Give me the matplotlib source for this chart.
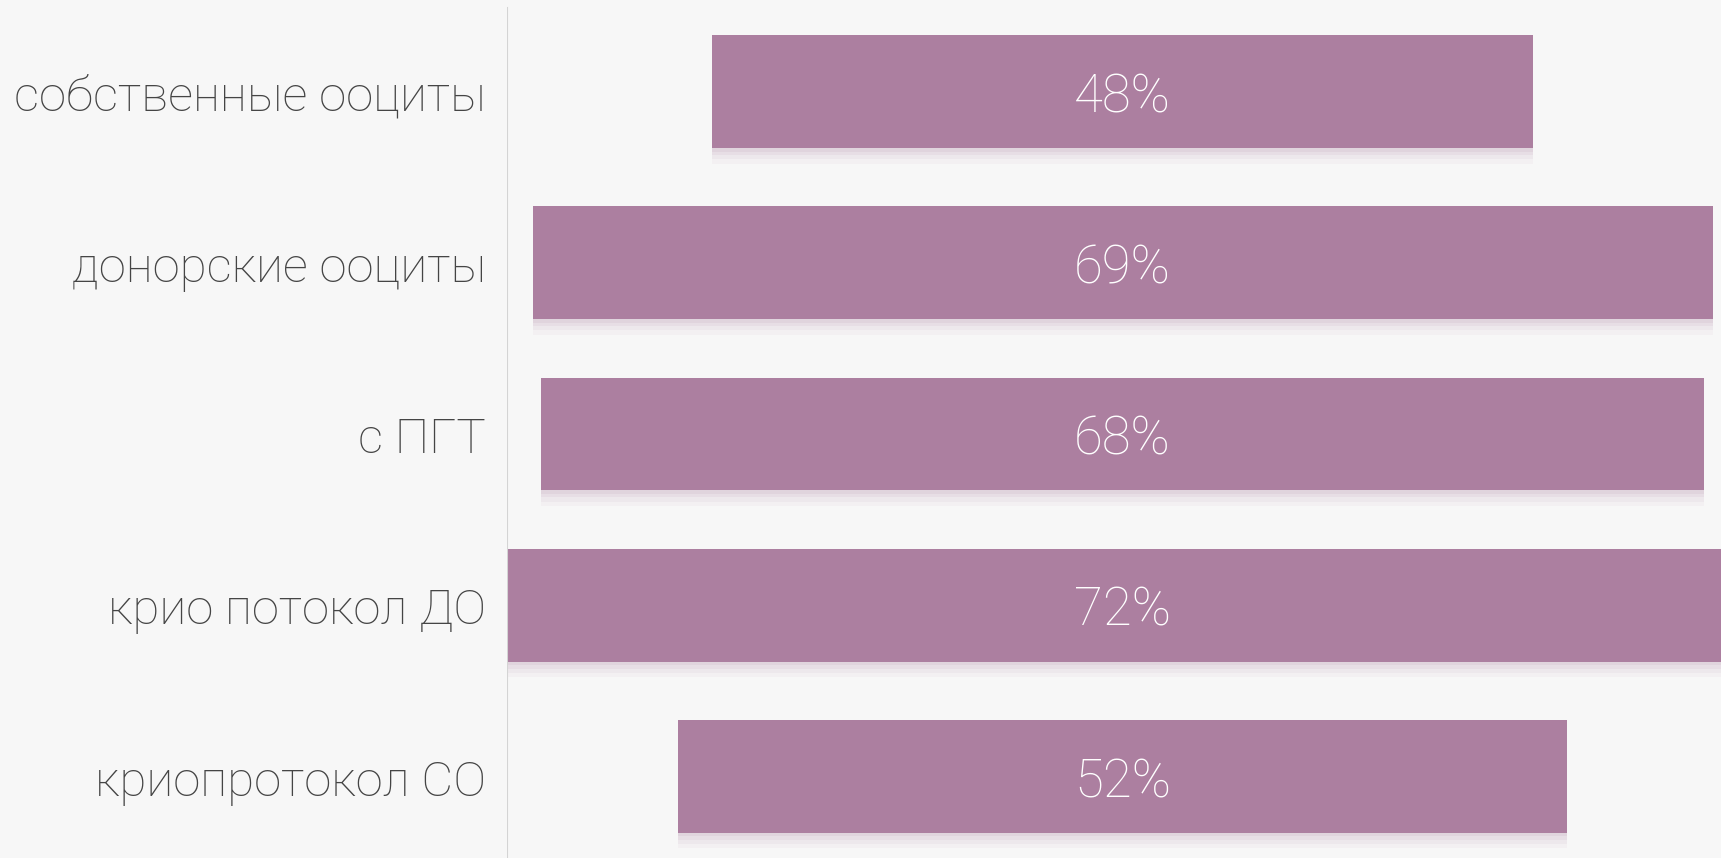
import matplotlib
matplotlib.use("Agg")
import matplotlib.pyplot as plt

categories = [
    "собственные ооциты",
    "донорские ооциты",
    "с ПГТ",
    "крио потокол ДО",
    "криопротокол СО",
]
values = [48, 69, 68, 72, 52]
value_labels = ["48%", "69%", "68%", "72%", "52%"]

BAR_COLOR = "#ac7fa0"
TEXT_COLOR = "#454545"
BG_COLOR = "#f7f7f7"

plt.rcParams["font.family"] = ["Roboto", "DejaVu Sans"]

W, H = 1721, 858
fig = plt.figure(figsize=(W / 100, H / 100), dpi=100, facecolor=BG_COLOR)

axis_px = 507
ax = fig.add_axes([axis_px / W, 0, 1 - axis_px / W, 1])
ax.set_facecolor("none")

center = 36
px_per_unit = 17.1
step_px = 171.2
first_px = 91.6
text_shift = 6  # text sits a little below the bar centre
ax.set_xlim(0, (W - axis_px) / px_per_unit)
ax.set_ylim((H - first_px) / step_px, -first_px / step_px)

ys = list(range(len(values)))
lefts = [center - v / 2 for v in values]

# soft shadow under each bar
for k, a in [(0.09, 0.05), (0.065, 0.07), (0.04, 0.09), (0.02, 0.10)]:
    ax.barh([y + k for y in ys], values, left=lefts, height=0.66,
            color=BAR_COLOR, alpha=a, linewidth=0)

ax.barh(ys, values, left=lefts, height=0.66, color=BAR_COLOR, linewidth=0)

for y, lab in zip(ys, value_labels):
    ax.text(center, y + text_shift / step_px, lab, ha="center", va="center",
            color="white", fontsize=38, fontweight="light")

for y, cat in zip(ys, categories):
    fig.text(486 / W, 1 - (first_px + text_shift + step_px * y) / H, cat,
             ha="right", va="center", color=TEXT_COLOR, fontsize=35.5,
             fontweight="light")

ax.axvline(0, ymin=0, ymax=1 - 8 / H, color="#d4d4d4", linewidth=1.5)

for s in ax.spines.values():
    s.set_visible(False)
ax.set_xticks([])
ax.set_yticks([])

fig.savefig("out.png", dpi=100, facecolor=BG_COLOR)
